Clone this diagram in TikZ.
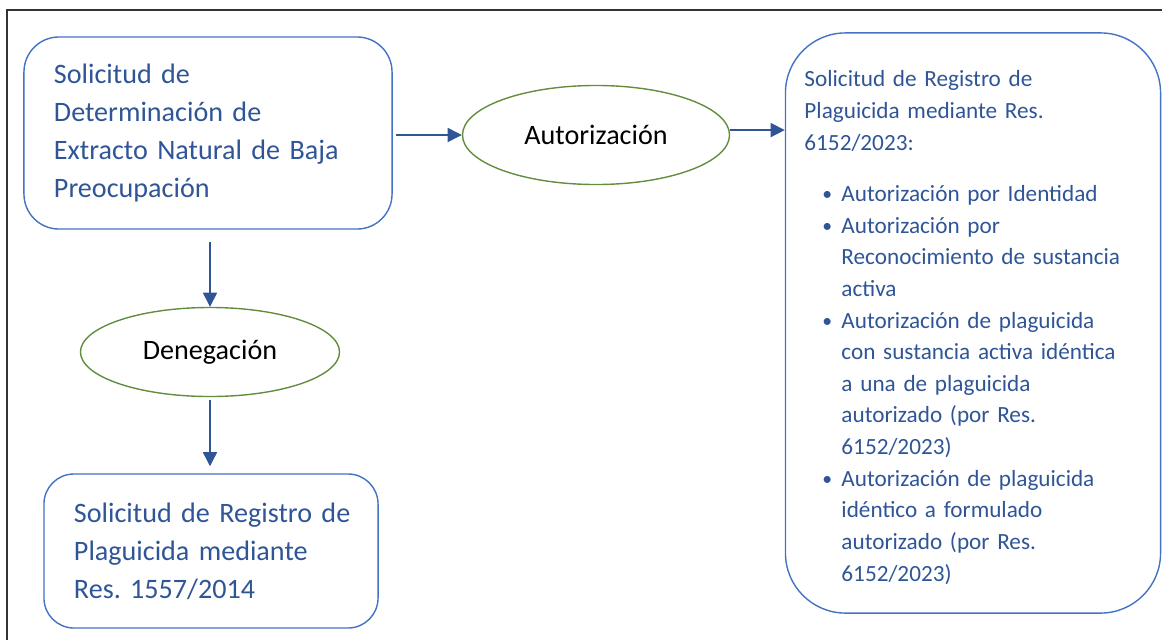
\documentclass[tikz,border=0pt]{standalone}
\usepackage{fontspec}
\setmainfont{Carlito}
\usetikzlibrary{shapes.geometric,arrows.meta}
\definecolor{boxblue}{RGB}{68,114,196}
\definecolor{txtblue}{RGB}{47,85,151}
\definecolor{ovalgreen}{RGB}{98,142,62}
\newcommand{\punto}{\hspace*{0.45cm}\makebox[0.475cm][l]{\raisebox{0.5pt}{\scalebox{0.85}{\textbullet}}}}
\newcommand{\sigue}{\hspace*{0.925cm}}
\begin{document}
\frenchspacing
\begin{tikzpicture}[x=0.025cm,y=-0.025cm,
    caja/.style={draw=boxblue, line width=1pt, rounded corners=#1, text=txtblue, align=left, inner ysep=0pt},
    ovalo/.style={ellipse, draw=ovalgreen, line width=1pt, inner sep=0pt, font=\fontsize{20}{24}\selectfont},
    flecha/.style={draw=txtblue, line width=1pt, -{Triangle[length=10pt,width=10pt]}}]
    \useasboundingbox (0,0) rectangle (1162,639);
    \clip (0,0) rectangle (1162,639);
    \draw [line width=1.5pt, black!80] (7,10) rectangle (1180,660);
    \node [caja=0.875cm, inner xsep=0.75cm, text width=7.7cm, minimum height=4.8cm, font=\fontsize{20}{27}\selectfont] (sol) at (208,133) {Solicitud de\\Determinación de\\Extracto Natural de Baja\\Preocupación};
    \node [ovalo, minimum width=6.675cm, minimum height=2.475cm] (autor) at (596,135) {Autorización};
    \node [ovalo, minimum width=6.475cm, minimum height=2.225cm] (deneg) at (210,352) {Denegación};
    \node [caja=0.75cm, inner xsep=0.75cm, text width=6.85cm, minimum height=3.85cm, font=\fontsize{20}{27}\selectfont] (reg) at (211,551) {\mbox{Solicitud de Registro de}\\Plaguicida mediante\\Res. 1557/2014};
    \node [caja=1.5cm, inner xsep=0.475cm, text width=8.425cm, minimum height=14.5cm, font=\fontsize{16.5}{22.5}\selectfont] (nuevo) at (973,323) {\rule{0pt}{18pt}Solicitud de Registro de\\Plaguicida mediante Res.\\6152/2023:\\[14pt]
        \punto Autorización por Identidad\\
        \punto Autorización por\\\sigue Reconocimiento de sustancia\\\sigue activa\\
        \punto Autorización de plaguicida\\\sigue con sustancia activa idéntica\\\sigue a una de plaguicida\\\sigue autorizado (por Res.\\\sigue 6152/2023)\\
        \punto Autorización de plaguicida\\\sigue idéntico a formulado\\\sigue autorizado (por Res.\\\sigue 6152/2023)};
    \draw [flecha, shorten <=2pt] (sol.east |- autor.west) -- (autor.west);
    \draw [flecha] ([yshift=3.5pt]autor.east) -- ([yshift=3.5pt]autor.east -| nuevo.west);
    \draw [flecha, shorten <=9pt] (deneg.north |- sol.south) -- (deneg.north);
    \draw [flecha, shorten <=2pt, shorten >=5pt] (deneg.south) -- (deneg.south |- reg.north);
\end{tikzpicture}
\end{document}
